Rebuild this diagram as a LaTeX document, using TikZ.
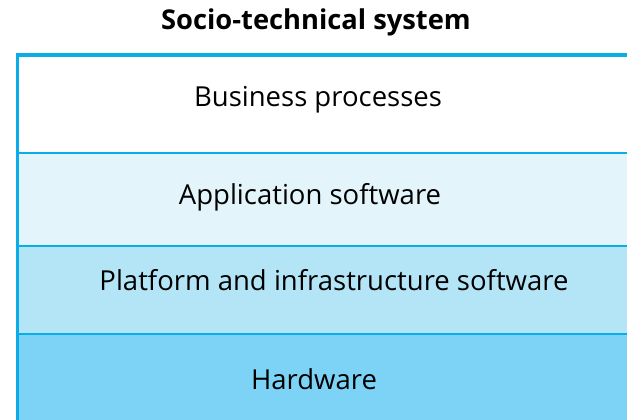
\documentclass[tikz,border=0pt]{standalone}
\usepackage{fontspec}
\setmainfont{Open Sans}
\usetikzlibrary{positioning}
\definecolor{edgeblue}{HTML}{0AADE8}
\definecolor{layerone}{HTML}{FFFFFF}
\definecolor{layertwo}{HTML}{E3F4FB}
\definecolor{layerthree}{HTML}{B3E5F7}
\definecolor{layerfour}{HTML}{7DD3F5}
\tikzset{
  layer/.style={rectangle, draw=edgeblue, line width=1.5pt, anchor=north west,
                minimum width=640pt, minimum height=#1, inner sep=0pt},
  lbl/.style={font=\fontsize{27.5}{32}\selectfont, align=center},
  title/.style={font=\fontsize{27.3}{32}\selectfont\bfseries}
}

\begin{document}
\begin{tikzpicture}[x=1pt, y=-1pt]
  \useasboundingbox (0,0) rectangle (627,420);
  % stack of layers, top to bottom
  \node[layer=97pt, fill=layerone] (bus) at (17.5,55) {};
  \node[layer=93pt, fill=layertwo] (app) at (17.5,152) {};
  \node[layer=88pt, fill=layerthree] (plat) at (17.5,245) {};
  \node[layer=100pt, fill=layerfour] (hw) at (17.5,333) {};
  % thick outer edges
  \draw[edgeblue, line width=3.5pt] (bus.south west |- hw.south west) -- (bus.north west) -- (bus.north east);
  % labels
  \node[title] (sts) at (316,22) {Socio-technical system};
  \node[lbl] (buslbl) at (318,99.5) {Business processes};
  \node[lbl] (applbl) at (310,197.5) {Application software};
  \node[lbl] (platlbl) at (334,280.5) {Platform and infrastructure software};
  \node[lbl] (hwlbl) at (314,379.5) {Hardware};
\end{tikzpicture}
\end{document}
